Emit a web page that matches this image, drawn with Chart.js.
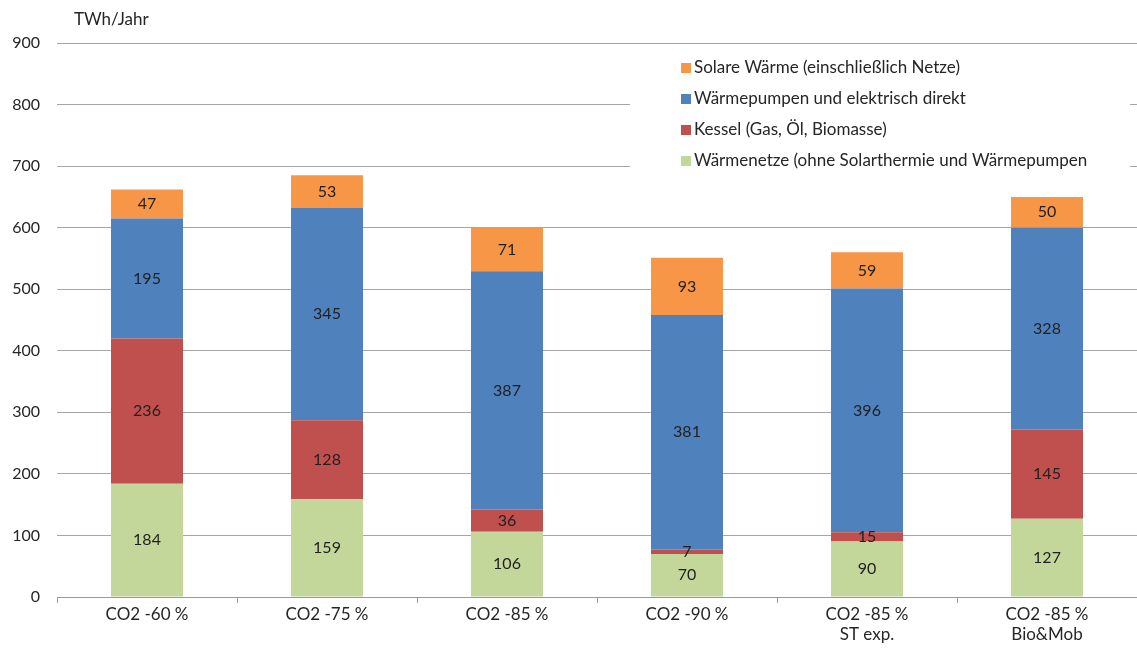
<!DOCTYPE html>
<html>
<head>
<meta charset="utf-8">
<script src="https://cdn.jsdelivr.net/npm/chart.js@4"></script>
<style>
  html, body { margin: 0; padding: 0; background: #fff; }
  #wrap { width: 1137px; height: 649px; }
</style>
</head>
<body>
<div id="wrap"><canvas id="chart"></canvas></div>
<script>
const categories = [['CO2 -60 %'], ['CO2 -75 %'], ['CO2 -85 %'], ['CO2 -90 %'], ['CO2 -85 %', 'ST exp.'], ['CO2 -85 %', 'Bio&Mob']];
const waermenetze = [184, 159, 106, 70, 90, 127];
const kessel = [236, 128, 36, 7, 15, 145];
const waermepumpen = [195, 345, 387, 381, 396, 328];
const solar = [47, 53, 71, 93, 59, 50];
const yTicks = [0, 100, 200, 300, 400, 500, 600, 700, 800, 900];

const FONT = 'Lato, "Open Sans", sans-serif';

// labels inside each segment
const segmentLabels = {
  id: 'segmentLabels',
  afterDatasetsDraw(chart) {
    const ctx = chart.ctx;
    ctx.save();
    ctx.font = '16px ' + FONT;
    ctx.fillStyle = '#1f1f1f';
    ctx.textAlign = 'center';
    ctx.textBaseline = 'middle';
    chart.data.datasets.forEach((ds, i) => {
      chart.getDatasetMeta(i).data.forEach((bar, j) => {
        const mid = (bar.y + bar.base) / 2;
        ctx.fillText(ds.data[j], bar.x, mid);
      });
    });
    ctx.restore();
  }
};

// unit text + legend box inside the plot
const extras = {
  id: 'extras',
  afterDraw(chart) {
    const ctx = chart.ctx;
    ctx.save();
    ctx.font = '17px ' + FONT;
    ctx.fillStyle = '#262626';
    ctx.textBaseline = 'middle';
    ctx.fillText('TWh/Jahr', 74, 20);

    ctx.fillStyle = '#fff';
    ctx.fillRect(630, 50, 500, 128);
    const items = chart.data.datasets.slice().reverse();
    items.forEach((ds, i) => {
      const y = 68 + i * 31;
      ctx.fillStyle = ds.backgroundColor;
      ctx.fillRect(681, y - 5, 10, 10);
      ctx.fillStyle = '#262626';
      ctx.fillText(ds.label, 694, y);
    });
    ctx.restore();
  }
};

new Chart(document.getElementById('chart'), {
  type: 'bar',
  data: {
    labels: categories,
    datasets: [
      { label: 'Wärmenetze (ohne Solarthermie und Wärmepumpen', data: waermenetze, backgroundColor: '#C4D79B' },
      { label: 'Kessel (Gas, Öl, Biomasse)', data: kessel, backgroundColor: '#C0504D' },
      { label: 'Wärmepumpen und elektrisch direkt', data: waermepumpen, backgroundColor: '#4F81BD' },
      { label: 'Solare Wärme (einschließlich Netze)', data: solar, backgroundColor: '#F79646' }
    ]
  },
  options: {
    responsive: true,
    maintainAspectRatio: false,
    animation: false,
    layout: { padding: { top: 43, right: 0, left: 0, bottom: 0 } },
    datasets: { bar: { barPercentage: 0.4, categoryPercentage: 1 } },
    plugins: {
      legend: { display: false },
      tooltip: { enabled: false }
    },
    scales: {
      x: {
        stacked: true,
        afterFit(scale) { scale.height = 52; },
        grid: { drawOnChartArea: false, color: '#999', tickLength: 6 },
        border: { color: '#999' },
        ticks: { color: '#262626', font: { family: FONT, size: 17 }, padding: 1 }
      },
      y: {
        stacked: true,
        min: 0,
        max: 900,
        afterFit(scale) { scale.width = 57; },
        afterBuildTicks(scale) { scale.ticks = yTicks.map(v => ({ value: v })); },
        grid: { color: '#a6a6a6', drawTicks: false },
        border: { display: false },
        ticks: { color: '#262626', font: { family: FONT, size: 16 }, padding: 17 }
      }
    }
  },
  plugins: [segmentLabels, extras]
});
</script>
</body>
</html>
